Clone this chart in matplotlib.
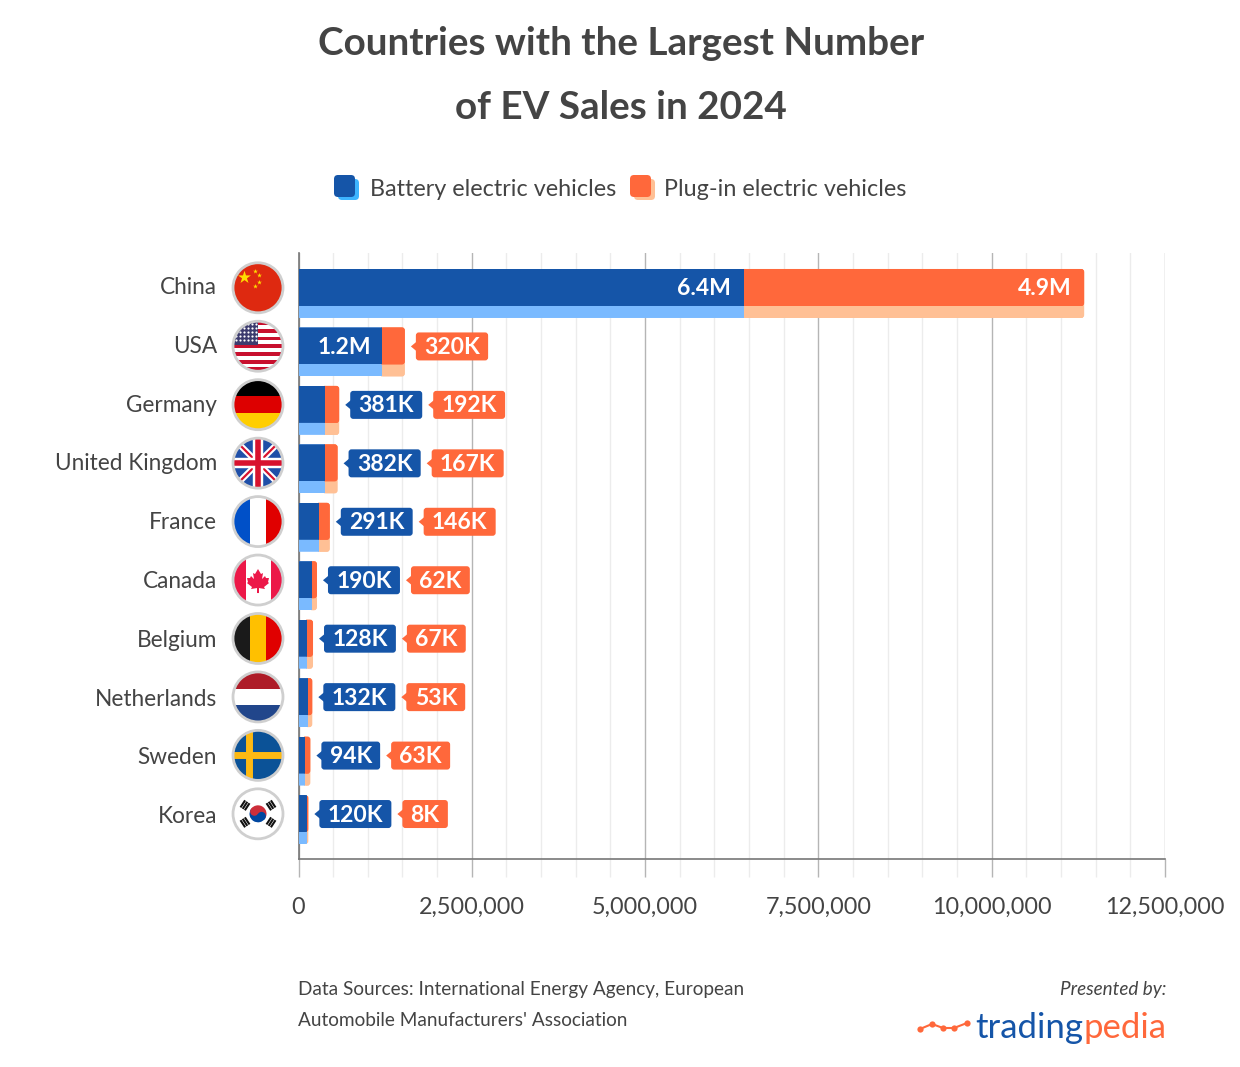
import numpy as np
import matplotlib
matplotlib.use('Agg')
import matplotlib.pyplot as plt
from matplotlib.patches import FancyBboxPatch, Circle, Rectangle, Polygon, Wedge
from matplotlib.ticker import FuncFormatter, MultipleLocator
from matplotlib.transforms import ScaledTranslation

countries = ['China', 'USA', 'Germany', 'United Kingdom', 'France', 'Canada',
             'Belgium', 'Netherlands', 'Sweden', 'Korea']
bev = [6420000, 1200000, 381000, 382000, 291000, 190000, 128000, 132000, 94000, 120000]
phev = [4900000, 320000, 192000, 167000, 146000, 62000, 67000, 53000, 63000, 8000]
bev_labels = ['6.4M', '1.2M', '381K', '382K', '291K', '190K', '128K', '132K', '94K', '120K']
phev_labels = ['4.9M', '320K', '192K', '167K', '146K', '62K', '67K', '53K', '63K', '8K']

BLUE = '#1555A8'
LIGHT_BLUE = '#7ABAFF'
ORANGE = '#FF683B'
LIGHT_ORANGE = '#FFC095'
TEXT = '#444444'
FONT = 'Lato'

W, H = 1240, 1067
plt.rcParams['font.family'] = [FONT, 'DejaVu Sans']
fig = plt.figure(figsize=(W / 100, H / 100), dpi=100)
ax = fig.add_axes([298.5 / W, (H - 859) / H, 866.5 / W, 606 / H])
over = fig.add_axes([0, 0, 1, 1], zorder=5)
over.set_xlim(0, W)
over.set_ylim(H, 0)
over.axis('off')

ax.set_xlim(0, 12500000)
ax.set_ylim(9.778, -0.59)
rows = np.arange(len(countries))
totals = np.array(bev) + np.array(phev)

# shadow bars sit a bit lower than the main ones, blue goes on top of the orange edge
shadow_y = rows + 0.1026
sh2 = ax.barh(shadow_y, phev, left=bev, height=0.838, color=LIGHT_ORANGE, ec=LIGHT_ORANGE, lw=2, zorder=3)
sh1 = ax.barh(shadow_y, bev, height=0.838, color=LIGHT_BLUE, zorder=3.5)
main2 = ax.barh(rows, phev, left=bev, height=0.633, color=ORANGE, ec=ORANGE, lw=2, zorder=4)
main1 = ax.barh(rows, bev, height=0.633, color=BLUE, zorder=4.5)


def to_px(x, y):
    return over.transData.inverted().transform(ax.transData.transform((x, y)))


# round the right end of each stack
for i in rows:
    xe, yt = to_px(totals[i], i - 0.3165)
    xe += 1
    _, yb = to_px(totals[i], i + 0.3165)
    _, ybs = to_px(totals[i], i + 0.5216)
    for bars, bottom in ((main1, yb), (main2, yb), (sh1, ybs), (sh2, ybs)):
        clip = FancyBboxPatch((260, yt), xe - 260, bottom - yt,
                              boxstyle='round,pad=0,rounding_size=3',
                              transform=over.transData)
        bars[i].set_clip_path(clip)

ax.xaxis.set_major_locator(MultipleLocator(2500000))
ax.xaxis.set_minor_locator(MultipleLocator(500000))
ax.xaxis.set_major_formatter(FuncFormatter(lambda v, p: f'{int(v):,}'))
ax.grid(True, axis='x', which='major', color='#b5b5b5', lw=1, zorder=1)
ax.grid(True, axis='x', which='minor', color='#ececec', lw=1, zorder=1)
ax.tick_params(axis='x', which='major', length=13, width=1, color='#b5b5b5', pad=14.5,
               labelsize=16.8, labelcolor=TEXT)
ax.tick_params(axis='x', which='minor', length=13, width=1, color='#ececec')
ax.set_yticks(rows)
ax.set_yticklabels(countries, fontsize=16.3, color=TEXT)
ax.tick_params(axis='y', length=0, pad=58.7)
# the labels are spaced a touch wider than the bars
for k, lab in enumerate(ax.get_yticklabels()):
    shift = (2 - 0.34 * k) / 100
    lab.set_transform(lab.get_transform() + ScaledTranslation(0, shift, fig.dpi_scale_trans))
for s in ['top', 'right']:
    ax.spines[s].set_visible(False)
ax.spines['left'].set_color('#777777')
ax.spines['bottom'].set_color('#777777')
ax.spines['left'].set_linewidth(1.2)
ax.spines['bottom'].set_linewidth(1.2)
ax.set_axisbelow(True)

renderer = fig.canvas.get_renderer()


def badge(x, y, label, color):
    t = over.text(0, y + 1, label, color='white', fontsize=16.5, fontweight='bold',
                  ha='center', va='center', zorder=8)
    w = t.get_window_extent(renderer).width + 16.5
    t.set_x(x + w / 2)
    over.add_patch(FancyBboxPatch((x, y - 14), w, 28, boxstyle='round,pad=0,rounding_size=3',
                                  fc=color, ec='none', zorder=7))
    over.add_patch(Polygon([[x + 1, y - 5], [x - 5, y], [x + 1, y + 5]], fc=color, ec='none', zorder=7))
    return x + w


for i in rows:
    xe, yc = to_px(totals[i], i)
    xe += 1
    yc += 0.5
    if i == 0:
        over.text(to_px(bev[i], i)[0] - 13, yc + 1, bev_labels[i], color='white', fontsize=16.5,
                  fontweight='bold', ha='right', va='center', zorder=8)
        over.text(xe - 13, yc + 1, phev_labels[i], color='white', fontsize=16.5,
                  fontweight='bold', ha='right', va='center', zorder=8)
    elif i == 1:
        over.text(to_px(bev[i], i)[0] - 10, yc + 1, bev_labels[i], color='white', fontsize=16.5,
                  fontweight='bold', ha='right', va='center', zorder=8)
        badge(xe + 11, yc, phev_labels[i], ORANGE)
    else:
        end = badge(xe + 11, yc, bev_labels[i], BLUE)
        badge(end + 11, yc, phev_labels[i], ORANGE)


def stripes(cx, cy, clip, colors, vertical=False, r=25):
    n = len(colors)
    for k, c in enumerate(colors):
        if vertical:
            p = Rectangle((cx - r + 2 * r * k / n, cy - r), 2 * r / n + 0.3, 2 * r, fc=c, ec='none', zorder=6)
        else:
            p = Rectangle((cx - r, cy - r + 2 * r * k / n), 2 * r, 2 * r / n + 0.3, fc=c, ec='none', zorder=6)
        over.add_patch(p)
        p.set_clip_path(clip)


def put(artist, clip):
    over.add_patch(artist)
    artist.set_clip_path(clip)
    return artist


def bar_line(cx, cy, clip, dx0, dy0, dx1, dy1, color, lw):
    ln, = over.plot([cx + dx0, cx + dx1], [cy + dy0, cy + dy1], color=color, lw=lw, zorder=6.2,
                    solid_capstyle='butt')
    ln.set_clip_path(clip)


def draw_flag(name, cx, cy):
    clip = Circle((cx, cy), 24.5, transform=over.transData)
    if name == 'China':
        stripes(cx, cy, clip, ['#DE2910'])
        over.scatter([cx - 14], [cy - 11], marker='*', s=95, color='#FFDE00', lw=0, zorder=6.3)
        over.scatter([cx - 3, cx + 1, cx + 1, cx - 3], [cy - 17, cy - 13, cy - 6, cy - 2],
                     marker='*', s=13, color='#FFDE00', lw=0, zorder=6.3)
    elif name == 'USA':
        stripes(cx, cy, clip, ['#C8102E', 'white'] * 6 + ['#C8102E'])
        put(Rectangle((cx - 25, cy - 25), 25, 24, fc='#3C3B6E', ec='none', zorder=6.1), clip)
        xs, ys = np.meshgrid(np.arange(cx - 22, cx - 1, 4), np.arange(cy - 22, cy - 2, 4))
        sc = over.scatter(xs.ravel(), ys.ravel(), s=2.5, color='white', lw=0, zorder=6.2)
        sc.set_clip_path(clip)
    elif name == 'Germany':
        stripes(cx, cy, clip, ['black', '#DD0000', '#FFCE00'])
    elif name == 'United Kingdom':
        stripes(cx, cy, clip, ['#1F4FA8'])
        bar_line(cx, cy, clip, -25, -25, 25, 25, 'white', 4.5)
        bar_line(cx, cy, clip, -25, 25, 25, -25, 'white', 4.5)
        bar_line(cx, cy, clip, -25, -25, 25, 25, '#D8122E', 1.6)
        bar_line(cx, cy, clip, -25, 25, 25, -25, '#D8122E', 1.6)
        bar_line(cx, cy, clip, 0, -25, 0, 25, 'white', 7.5)
        bar_line(cx, cy, clip, -25, 0, 25, 0, 'white', 7.5)
        bar_line(cx, cy, clip, 0, -25, 0, 25, '#D8122E', 4)
        bar_line(cx, cy, clip, -25, 0, 25, 0, '#D8122E', 4)
    elif name == 'France':
        stripes(cx, cy, clip, ['#0050C8', 'white', '#E00000'], vertical=True)
    elif name == 'Canada':
        stripes(cx, cy, clip, ['#EC1848', 'white', 'white', '#EC1848'], vertical=True)
        leaf = [(0, -11), (3, -6), (5, -7), (4, -1), (7, -4), (8, -2), (11, -2), (10, 2), (11, 3),
                (6, 7), (7, 9), (1, 8), (1, 13), (-1, 13), (-1, 8), (-7, 9), (-6, 7), (-11, 3),
                (-10, 2), (-11, -2), (-8, -2), (-7, -4), (-4, -1), (-5, -7), (-3, -6)]
        over.add_patch(Polygon([(cx + a, cy + b) for a, b in leaf], fc='#EC1848', ec='none', zorder=6.2))
    elif name == 'Belgium':
        stripes(cx, cy, clip, ['#1A1A1A', '#FFC000', '#E00000'], vertical=True)
    elif name == 'Netherlands':
        stripes(cx, cy, clip, ['#AE1C28', 'white', '#21468B'])
    elif name == 'Sweden':
        stripes(cx, cy, clip, ['#0B5297'])
        bar_line(cx, cy, clip, -9, -25, -9, 25, '#FDB913', 5)
        bar_line(cx, cy, clip, -25, 0, 25, 0, '#FDB913', 5)
    elif name == 'Korea':
        stripes(cx, cy, clip, ['white'])
        # y axis is flipped here, so 213-393 is the upper half
        over.add_patch(Wedge((cx, cy), 8.5, 213, 393, fc='#CD2E3A', ec='none', zorder=6.2))
        over.add_patch(Wedge((cx, cy), 8.5, 33, 213, fc='#0047A0', ec='none', zorder=6.2))
        over.add_patch(Circle((cx - 3.6, cy - 2.3), 4.25, fc='#CD2E3A', ec='none', zorder=6.3))
        over.add_patch(Circle((cx + 3.6, cy + 2.3), 4.25, fc='#0047A0', ec='none', zorder=6.3))
        # trigrams run across the line from the centre
        for sx, sy in ((-1, -1), (1, -1), (-1, 1), (1, 1)):
            ux, uy = sx * 0.84, sy * 0.55
            for off in (-2.6, 0, 2.6):
                mx = cx + sx * 13 + ux * off
                my = cy + sy * 8.5 + uy * off
                over.plot([mx - uy * 4.2, mx + uy * 4.2], [my + ux * 4.2, my - ux * 4.2],
                          color='#111111', lw=1.5, zorder=6.2, solid_capstyle='butt')
    over.add_patch(Circle((cx, cy), 25, fc='none', ec='#CFCFCF', lw=2, zorder=6.5))


for i, name in enumerate(countries):
    _, yc = to_px(0, i)
    draw_flag(name, 258, yc + 0.3)

# title
over.text(621, 43.5, 'Countries with the Largest Number', fontsize=27.8, fontweight='bold',
          color=TEXT, ha='center', va='center')
over.text(621, 107.5, 'of EV Sales in 2024', fontsize=27.8, fontweight='bold',
          color=TEXT, ha='center', va='center')

# legend
for x, front, back, label, tx in ((334, BLUE, '#3DB4FF', 'Battery electric vehicles', 370),
                                  (630, ORANGE, LIGHT_ORANGE, 'Plug-in electric vehicles', 664)):
    over.add_patch(FancyBboxPatch((x + 4, 179), 21, 21, boxstyle='round,pad=0,rounding_size=4', fc=back, ec='none'))
    over.add_patch(FancyBboxPatch((x, 175), 21, 22, boxstyle='round,pad=0,rounding_size=4', fc=front, ec='none'))
    over.text(tx, 189, label, fontsize=16.8, color=TEXT, ha='left', va='center')

# footer
over.text(298, 990, 'Data Sources: International Energy Agency, European', fontsize=13.7,
          color=TEXT, ha='left', va='center')
over.text(298, 1020, "Automobile Manufacturers' Association", fontsize=13.7,
          color=TEXT, ha='left', va='center')
over.text(1166, 990, 'Presented by:', fontsize=13.6, style='italic', color=TEXT, ha='right', va='center')

# logo
t2 = over.text(1166, 1028, 'pedia', fontsize=25, color=ORANGE, ha='right', va='center')
x_split = 1166 - t2.get_window_extent(renderer).width
over.text(x_split, 1028, 'trading', fontsize=25, color=BLUE, ha='right', va='center')
logo_x = [920, 932, 943, 954, 967]
logo_y = [1029, 1024, 1028, 1028, 1023]
over.plot(logo_x, logo_y, color=ORANGE, lw=1.5, marker='o', ms=4.5, mec='none')

fig.savefig('out.png', dpi=100)
